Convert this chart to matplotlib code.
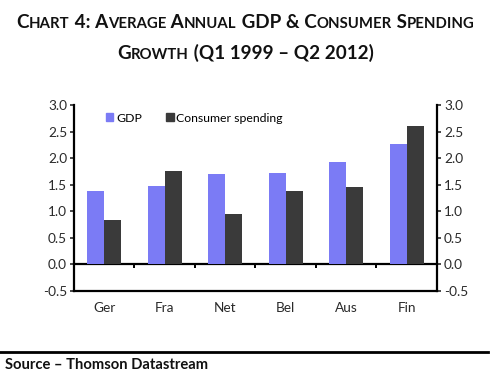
import numpy as np
import matplotlib.pyplot as plt
from matplotlib.patches import Patch

countries = ["Ger", "Fra", "Net", "Bel", "Aus", "Fin"]
gdp = [1.38, 1.47, 1.70, 1.72, 1.93, 2.26]
consumer = [0.83, 1.75, 0.94, 1.39, 1.46, 2.60]
yticks = [-0.5, 0.0, 0.5, 1.0, 1.5, 2.0, 2.5, 3.0]

plt.rcParams['font.family'] = ['Lato', 'DejaVu Sans']
c_gdp = "#7b7bf5"
c_cs = "#3a3a3a"

fig = plt.figure(figsize=(4.91, 3.75), dpi=100)
ax = fig.add_axes([74/491, 84/375, 363/491, 186/375])

x = np.arange(len(countries))
w = 0.285
ax.bar(x - w/2, gdp, w, color=c_gdp, label="GDP")
ax.bar(x + w/2, consumer, w, color=c_cs, label="Consumer spending")

ax.set_xlim(-0.5, len(countries) - 0.5)
ax.set_ylim(-0.5, 3.0)
ax.set_yticks(yticks)
ax.set_yticklabels([f"{v:.1f}" for v in yticks])
ax.set_xticks(x)
ax.set_xticklabels(countries)
ax.tick_params(axis='x', length=0, pad=8, labelsize=9.8, colors="#2a2a2a")
ax.tick_params(axis='y', length=3, width=1.2, labelsize=9.8, pad=2, colors="#2a2a2a")
for s in ["left", "bottom"]:
    ax.spines[s].set_linewidth(1.6)
ax.spines["right"].set_visible(False)
ax.spines["top"].set_visible(False)

# zero line with boundary ticks
sec = ax.secondary_xaxis(0.5 / 3.5)
sec.set_xticks(np.arange(len(countries) + 1) - 0.5)
sec.set_xticklabels([])
sec.spines["bottom"].set_linewidth(1.6)
sec.tick_params(length=3, width=1.4)

rax = ax.secondary_yaxis("right")
rax.set_yticks(yticks)
rax.set_yticklabels([f"{v:.1f}" for v in yticks])
rax.spines["right"].set_linewidth(1.6)
rax.tick_params(length=3, width=1.2, labelsize=9.8, pad=2, colors="#2a2a2a")

handles = [Patch(color=c_gdp), Patch(color=c_cs)]
ax.legend(handles, ["GDP", "Consumer spending"], loc="upper left", ncol=2,
          frameon=False, fontsize=8.8, handlelength=0.6, handleheight=0.6,
          handletextpad=0.2, columnspacing=2.0, bbox_to_anchor=(0.075, 0.985),
          borderaxespad=0)


def small_caps(text, y, big=13.6, small=10.7):
    r = fig.canvas.get_renderer()
    pieces = []
    cur = ""
    cur_low = None
    for ch in text:
        low = ch.islower()
        if cur and low != cur_low:
            pieces.append((cur, cur_low))
            cur = ""
        cur += ch
        cur_low = low
    if cur:
        pieces.append((cur, cur_low))
    objs = []
    xpos = 0
    for s, low in pieces:
        t = fig.text(0, y, s.upper(), fontsize=small if low else big,
                     fontweight="bold", color="#111111", va="baseline",
                     transform=None)
        bb = t.get_window_extent(r)
        objs.append((t, xpos))
        xpos += bb.width
    start = (fig.bbox.width - xpos) / 2
    for t, xp in objs:
        t.set_position((start + xp, y))


small_caps("Chart 4: Average Annual GDP & Consumer Spending", 375 - 28)
small_caps("Growth (Q1 1999 \u2013 Q2 2012)", 375 - 59)

fig.add_artist(plt.Line2D([0, 488/491], [23/375, 23/375], color="black", lw=2,
                          transform=fig.transFigure))
fig.text(5/491, 10/375, "Source \u2013 Thomson Datastream", fontsize=10.6,
         fontweight="bold", va="center", ha="left", color="#111111")

fig.savefig("out.png", dpi=100)
